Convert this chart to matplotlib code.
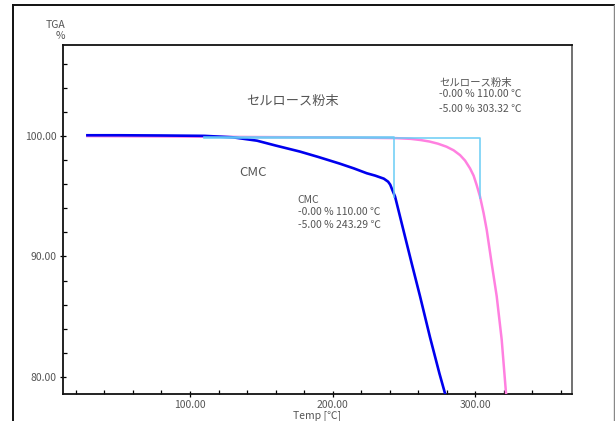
import numpy as np
import matplotlib
matplotlib.use('Agg')
import matplotlib.pyplot as plt
from matplotlib.lines import Line2D
from matplotlib.ticker import MultipleLocator, FormatStrFormatter

plt.rcParams['font.family'] = ['Noto Sans CJK JP', 'DejaVu Sans']

# CMC curve (Temp [C], TGA [%])
cmc_t = [28, 50, 80, 110, 130, 147, 160, 177, 190, 205, 215, 224, 230, 236, 239,
         240.5, 242, 243.9, 249.7, 255.6, 261.4, 268.4, 275, 279.5]
cmc_v = [100.05, 100.05, 100.03, 100.0, 99.88, 99.6, 99.2, 98.7, 98.25, 97.7, 97.3,
         96.9, 96.7, 96.45, 96.2, 95.95, 95.5, 94.96, 92.2, 89.4, 86.7, 83.3, 80.3, 78.4]

# cellulose powder curve
cel_t = [28, 80, 150, 200, 245, 255, 262, 268, 274, 280, 285, 289.5, 293, 296.5,
         299, 301.2, 303.5, 306, 308.2, 311.7, 315.2, 318.7, 321.7, 322.5]
cel_v = [99.98, 99.95, 99.9, 99.87, 99.81, 99.75, 99.65, 99.53, 99.35, 99.1, 98.8,
         98.4, 97.95, 97.3, 96.7, 95.9, 94.96, 93.6, 92.2, 89.4, 86.7, 83.1, 78.7, 78.2]

# onset marks: start temp, -5% temp, reference level
cmc_on = [110.00, 243.29, 99.92]
cel_on = [110.00, 303.32, 99.82]

gray = '#555555'
fig = plt.figure(figsize=(6.15, 4.21), dpi=100)
ax = fig.add_axes([0.102, 0.0641, 0.828, 0.828])

ax.plot(cel_t, cel_v, color='#ff80e0', lw=1.8, zorder=3)
ax.plot(cmc_t, cmc_v, color='#0000ee', lw=1.9, zorder=4)

for on in (cmc_on, cel_on):
    ax.plot([on[0], on[1], on[1]], [on[2], on[2], on[2] - 5],
            color='#66ccf5', lw=1.2, alpha=0.9, zorder=5)

ax.set_xlim(10.7, 368)
ax.set_ylim(78.59, 107.5)
ax.xaxis.set_major_locator(MultipleLocator(100))
ax.xaxis.set_minor_locator(MultipleLocator(20))
ax.yaxis.set_major_locator(MultipleLocator(10))
ax.yaxis.set_minor_locator(MultipleLocator(2))
ax.xaxis.set_major_formatter(FormatStrFormatter('%.2f'))
ax.yaxis.set_major_formatter(FormatStrFormatter('%.2f'))
ax.tick_params(which='major', direction='inout', length=5, width=0.9,
               labelsize=7.5, labelcolor=gray, pad=2)
ax.tick_params(which='minor', direction='in', length=3, width=0.9)
for s in ('left', 'bottom', 'top'):
    ax.spines[s].set_color('#111111')
    ax.spines[s].set_linewidth(1.3)
ax.spines['right'].set_color('#666666')
ax.spines['right'].set_linewidth(1.3)

ax.set_xlabel('Temp [℃]', fontsize=7.5, color=gray, labelpad=0)
fig.text(0.106, 1 - 25 / 421, 'TGA', fontsize=7.5, color=gray, ha='right', va='center')
fig.text(0.106, 1 - 36 / 421, '%', fontsize=7.5, color=gray, ha='right', va='center')

ax.text(172, 102.85, 'セルロース粉末', fontsize=9.5, color=gray, ha='center', va='center')
ax.text(144, 96.93, 'CMC', fontsize=9.5, color=gray, ha='center', va='center')

cmc_lines = ['CMC', '-0.00 % 110.00 ℃', '-5.00 % 243.29 ℃']
cel_lines = ['セルロース粉末', '-0.00 % 110.00 ℃', '-5.00 % 303.32 ℃']
for i, s in enumerate(cmc_lines):
    ax.text(175.6, [94.69, 93.72, 92.61][i], s, fontsize=7.5, color=gray,
            ha='left', va='center')
for i, s in enumerate(cel_lines):
    ax.text(274.7, [104.37, 103.46, 102.22][i], s, fontsize=7.5, color=gray,
            ha='left', va='center')

# outer frame
fig.add_artist(Line2D([0.0217, 0.0217], [0, 0.9888], color='#111111', lw=1.4))
fig.add_artist(Line2D([0.0217, 0.998], [0.9888, 0.9888], color='#111111', lw=1.4))
fig.add_artist(Line2D([0.998, 0.998], [0, 0.9888], color='#888888', lw=1.0))

fig.savefig('out.png', dpi=100)
